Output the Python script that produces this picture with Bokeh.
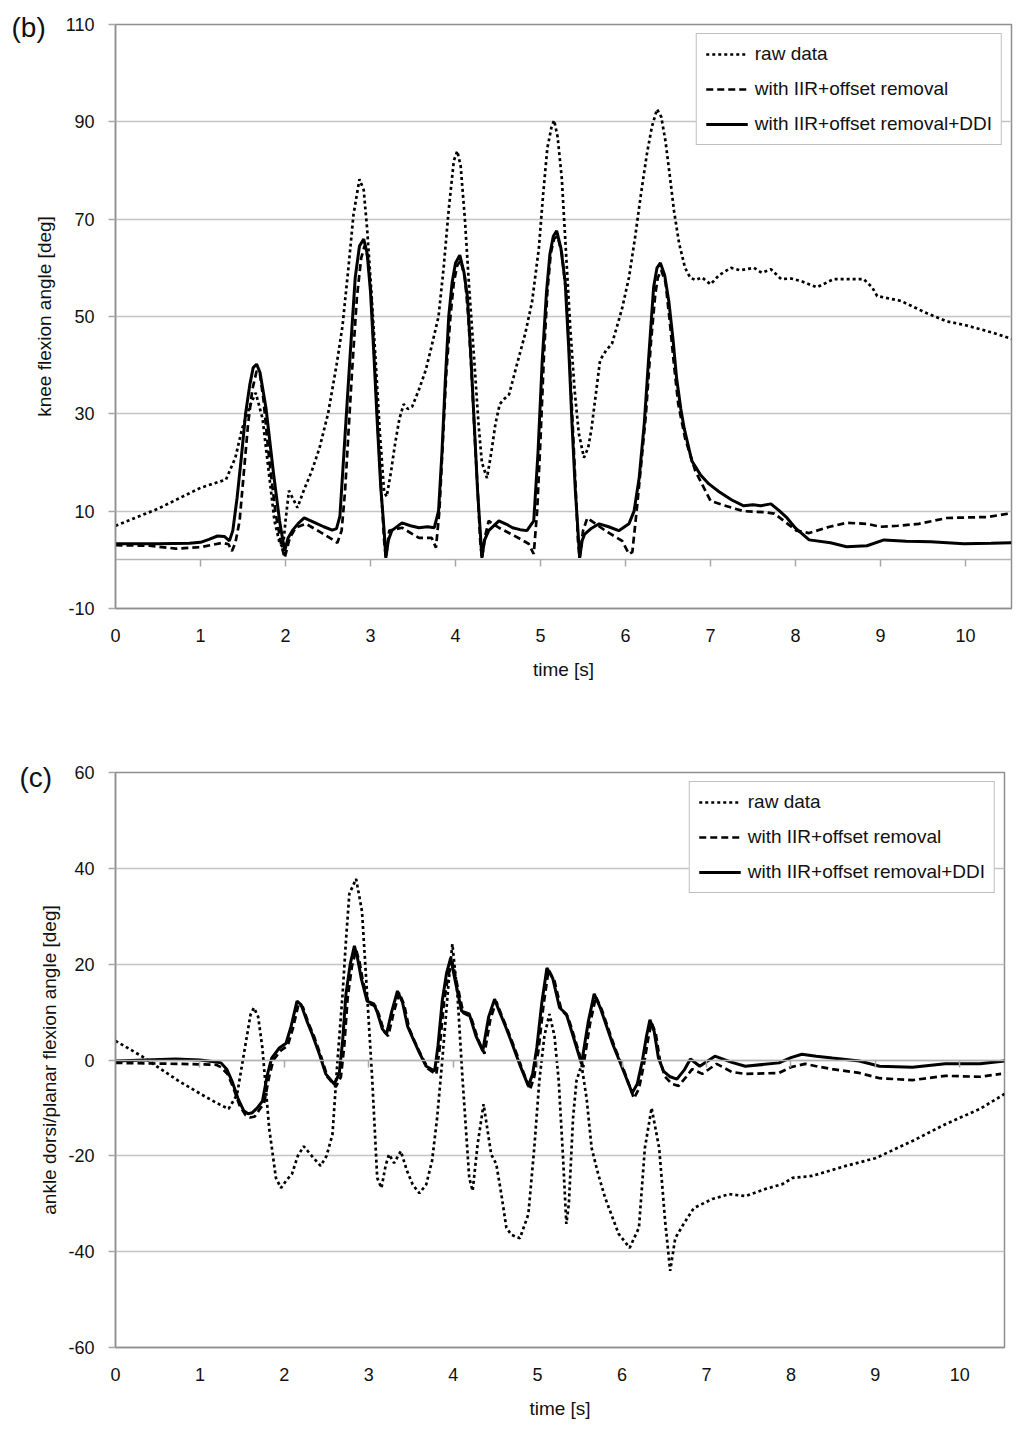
from bokeh.plotting import figure
from bokeh.models import Range1d, FixedTicker, LinearAxis, Label, Legend, LegendItem
from bokeh.layouts import column
from bokeh.embed import file_html
from bokeh.resources import INLINE

FONT = "Liberation Sans"
TXT = "#111111"
GRID = "#c4c4c4"
FRAME = "#8f8f8f"

series_names = ["raw data", "with IIR+offset removal", "with IIR+offset removal+DDI"]
time_ticks = list(range(0, 11))
knee_ticks = [-10, 10, 30, 50, 70, 90, 110]
ankle_ticks = [-60, -40, -20, 0, 20, 40, 60]

# (b) knee flexion angle, (time [s], angle [deg])
knee_raw = [(0.00, 7.0), (0.50, 10.5), (1.00, 14.8), (1.30, 16.5), (1.41, 21.0), (1.49, 27.0), (1.59, 32.0),
            (1.65, 34.3), (1.73, 29.0), (1.81, 17.0), (1.87, 8.0), (1.93, 3.5), (1.97, 2.5), (2.00, 8.0),
            (2.04, 14.2), (2.09, 12.5), (2.14, 10.7), (2.22, 14.5), (2.31, 18.3), (2.40, 23.0), (2.50, 30.0),
            (2.60, 40.0), (2.67, 48.0), (2.74, 60.0), (2.80, 71.0), (2.87, 78.2), (2.92, 76.0), (2.96, 68.0),
            (3.01, 55.0), (3.06, 41.0), (3.11, 26.0), (3.16, 14.0), (3.19, 13.0), (3.24, 18.0), (3.29, 24.0),
            (3.34, 29.0), (3.39, 32.0), (3.44, 31.0), (3.49, 31.5), (3.57, 35.0), (3.65, 39.0), (3.72, 44.0),
            (3.80, 50.0), (3.86, 60.0), (3.92, 72.0), (3.98, 82.0), (4.02, 84.0), (4.06, 81.0), (4.11, 70.0),
            (4.16, 56.0), (4.22, 41.0), (4.27, 28.0), (4.31, 20.0), (4.37, 16.8), (4.42, 22.0), (4.47, 28.0),
            (4.52, 32.0), (4.57, 33.0), (4.63, 34.0), (4.72, 40.0), (4.82, 46.5), (4.90, 53.0), (4.98, 64.0),
            (5.03, 75.0), (5.08, 84.6), (5.13, 89.0), (5.16, 90.3), (5.20, 87.0), (5.25, 78.4), (5.30, 63.0),
            (5.35, 47.6), (5.40, 35.0), (5.45, 26.0), (5.51, 21.0), (5.56, 23.0), (5.60, 27.0), (5.65, 34.0),
            (5.70, 41.0), (5.77, 43.0), (5.84, 44.4), (5.90, 48.0), (5.96, 51.7), (6.04, 58.0), (6.11, 66.0),
            (6.18, 75.0), (6.25, 83.3), (6.31, 89.0), (6.37, 92.6), (6.42, 91.0), (6.47, 86.0), (6.52, 79.0),
            (6.57, 71.7), (6.63, 65.0), (6.70, 60.0), (6.76, 58.0), (6.82, 57.5), (6.90, 58.0), (7.00, 56.6),
            (7.10, 58.5), (7.24, 60.0), (7.35, 59.5), (7.51, 60.0), (7.60, 59.0), (7.71, 59.7), (7.83, 57.7),
            (7.95, 57.8), (8.06, 57.3), (8.25, 56.0), (8.45, 57.7), (8.60, 57.7), (8.80, 57.7), (8.90, 56.0),
            (8.96, 54.2), (9.24, 53.2), (9.54, 50.7), (9.78, 49.0), (10.00, 48.2), (10.17, 47.4), (10.35, 46.5),
            (10.54, 45.4)]

knee_iir = [(0.00, 3.0), (0.40, 2.9), (0.71, 2.3), (1.00, 2.6), (1.26, 3.5), (1.33, 3.2), (1.37, 1.8),
            (1.41, 3.5), (1.46, 8.0), (1.51, 18.0), (1.56, 28.0), (1.61, 35.0), (1.66, 38.8), (1.70, 38.0),
            (1.74, 33.0), (1.80, 22.0), (1.88, 10.0), (1.95, 3.0), (1.99, 0.4), (2.05, 4.5), (2.12, 6.6),
            (2.24, 7.4), (2.40, 5.8), (2.55, 4.2), (2.61, 3.5), (2.66, 6.0), (2.70, 14.0), (2.74, 26.0),
            (2.78, 38.0), (2.84, 54.0), (2.89, 62.0), (2.93, 64.5), (2.97, 62.0), (3.01, 54.0), (3.05, 40.0),
            (3.09, 26.0), (3.13, 13.0), (3.16, 4.0), (3.18, 0.4), (3.22, 6.0), (3.37, 6.6), (3.57, 4.5),
            (3.72, 4.5), (3.77, 2.5), (3.81, 10.0), (3.85, 24.0), (3.89, 38.0), (3.94, 50.0), (3.98, 57.0),
            (4.02, 60.5), (4.06, 61.5), (4.11, 58.0), (4.15, 50.0), (4.19, 38.0), (4.23, 24.0), (4.27, 11.0),
            (4.29, 4.0), (4.31, 0.3), (4.35, 5.0), (4.39, 8.0), (4.51, 6.6), (4.74, 4.5), (4.86, 3.3),
            (4.92, 1.2), (4.96, 10.0), (5.00, 25.0), (5.04, 42.0), (5.08, 55.0), (5.12, 63.0), (5.16, 66.0),
            (5.20, 66.5), (5.25, 63.0), (5.30, 55.0), (5.34, 42.0), (5.38, 27.0), (5.42, 12.0), (5.44, 4.0),
            (5.46, 0.4), (5.50, 6.0), (5.55, 8.6), (5.76, 6.0), (5.96, 3.9), (6.04, 1.2), (6.08, 1.6),
            (6.13, 10.0), (6.18, 19.0), (6.24, 30.0), (6.30, 45.0), (6.35, 54.6), (6.38, 58.0), (6.42, 59.5),
            (6.47, 57.0), (6.52, 49.0), (6.57, 40.0), (6.62, 32.0), (6.70, 25.0), (6.82, 18.3), (7.00, 12.1),
            (7.25, 10.7), (7.39, 10.0), (7.63, 9.8), (7.75, 9.5), (7.90, 7.5), (8.01, 6.0), (8.16, 5.5),
            (8.40, 6.8), (8.60, 7.6), (8.84, 7.4), (9.00, 6.8), (9.20, 7.0), (9.45, 7.4), (9.78, 8.6),
            (10.00, 8.7), (10.26, 8.8), (10.54, 9.6)]

knee_ddi = [(0.00, 3.3), (0.50, 3.3), (0.87, 3.4), (1.00, 3.6), (1.10, 4.2), (1.20, 4.9), (1.28, 4.8),
            (1.34, 3.9), (1.38, 6.0), (1.43, 12.7), (1.48, 21.0), (1.53, 30.0), (1.58, 36.0), (1.62, 39.5),
            (1.66, 40.2), (1.70, 38.5), (1.77, 31.2), (1.86, 17.6), (1.93, 8.0), (1.99, 1.8), (2.03, 4.5),
            (2.08, 6.0), (2.15, 7.5), (2.22, 8.6), (2.35, 7.6), (2.45, 6.8), (2.55, 6.1), (2.60, 6.4),
            (2.64, 9.0), (2.68, 20.0), (2.72, 31.0), (2.76, 42.0), (2.82, 58.0), (2.87, 64.5), (2.92, 65.9),
            (2.96, 63.0), (3.00, 55.0), (3.04, 42.0), (3.08, 28.0), (3.12, 15.0), (3.16, 6.0), (3.18, 0.4),
            (3.21, 4.0), (3.25, 6.0), (3.37, 7.6), (3.47, 7.0), (3.57, 6.6), (3.67, 6.8), (3.75, 6.6),
            (3.80, 10.0), (3.84, 22.0), (3.88, 37.0), (3.92, 50.0), (3.96, 57.0), (4.00, 61.0), (4.05, 62.6),
            (4.10, 59.0), (4.14, 54.0), (4.18, 42.0), (4.22, 28.0), (4.26, 14.0), (4.29, 6.0), (4.31, 0.4),
            (4.34, 4.0), (4.39, 6.0), (4.51, 8.0), (4.60, 7.3), (4.67, 6.6), (4.76, 6.2), (4.84, 6.0),
            (4.92, 8.0), (4.97, 22.0), (5.02, 41.0), (5.07, 55.0), (5.11, 62.8), (5.15, 66.5), (5.19, 67.6),
            (5.24, 64.0), (5.29, 57.0), (5.33, 44.0), (5.37, 28.0), (5.41, 14.0), (5.44, 6.0), (5.46, 0.4),
            (5.49, 4.0), (5.52, 5.3), (5.60, 6.5), (5.69, 7.4), (5.80, 6.8), (5.92, 6.0), (6.04, 7.4),
            (6.10, 10.0), (6.16, 16.8), (6.22, 28.0), (6.27, 41.0), (6.33, 56.0), (6.37, 60.0), (6.41, 61.0),
            (6.46, 58.5), (6.51, 53.0), (6.56, 45.0), (6.60, 37.4), (6.65, 31.0), (6.69, 27.0), (6.78, 20.3),
            (6.88, 17.5), (6.98, 15.6), (7.10, 14.0), (7.25, 12.3), (7.39, 11.1), (7.50, 11.3), (7.59, 11.1),
            (7.71, 11.5), (7.80, 10.2), (7.90, 8.6), (8.00, 6.5), (8.16, 4.1), (8.41, 3.5), (8.60, 2.7),
            (8.84, 2.9), (9.04, 4.1), (9.30, 3.8), (9.59, 3.7), (9.98, 3.3), (10.30, 3.4), (10.54, 3.5)]

# (c) ankle dorsi/planar flexion angle
ankle_raw = [(0.00, 4.0), (0.31, 0.8), (0.75, -4.4), (1.00, -7.0), (1.20, -9.0), (1.34, -10.2), (1.44, -7.2),
             (1.54, 3.3), (1.60, 9.5), (1.64, 10.9), (1.69, 9.0), (1.74, 2.5), (1.82, -14.2), (1.90, -24.6),
             (1.96, -26.7), (2.03, -25.0), (2.09, -23.8), (2.16, -20.0), (2.23, -18.0), (2.30, -19.5),
             (2.43, -22.1), (2.50, -20.0), (2.57, -15.5), (2.63, 0.0), (2.69, 13.8), (2.73, 25.0), (2.77, 34.7),
             (2.85, 37.8), (2.92, 31.0), (2.98, 13.8), (3.04, -3.8), (3.10, -24.6), (3.15, -26.7), (3.20, -22.0),
             (3.24, -19.7), (3.30, -21.5), (3.38, -19.0), (3.45, -23.0), (3.52, -26.0), (3.60, -27.8),
             (3.68, -26.0), (3.75, -21.0), (3.81, -12.0), (3.87, -0.2), (3.95, 17.1), (3.99, 24.2), (4.05, 13.8),
             (4.11, -3.8), (4.19, -24.6), (4.23, -27.3), (4.29, -17.5), (4.36, -9.2), (4.45, -19.7),
             (4.51, -21.7), (4.57, -28.0), (4.63, -35.0), (4.69, -36.5), (4.79, -37.2), (4.89, -32.2),
             (4.96, -18.4), (5.02, -4.4), (5.08, 5.0), (5.14, 9.6), (5.20, 5.0), (5.25, -4.4), (5.30, -20.0),
             (5.34, -34.2), (5.37, -30.0), (5.42, -12.0), (5.46, -4.4), (5.52, -1.0), (5.58, -8.0),
             (5.64, -18.4), (5.72, -24.0), (5.80, -28.8), (5.96, -36.3), (6.09, -39.2), (6.20, -35.0),
             (6.27, -18.4), (6.35, -10.0), (6.44, -18.4), (6.51, -33.6), (6.57, -44.0), (6.63, -37.2),
             (6.73, -34.2), (6.85, -30.9), (7.07, -29.0), (7.27, -28.0), (7.46, -28.4), (7.70, -26.9),
             (7.90, -25.9), (8.02, -24.6), (8.25, -24.2), (8.65, -22.1), (9.00, -20.5), (9.44, -16.9),
             (9.83, -13.4), (10.24, -10.2), (10.53, -7.1)]

ankle_iir = [(0.00, -0.6), (0.71, -0.8), (1.00, -0.9), (1.19, -1.0), (1.25, -1.5), (1.33, -3.0), (1.40, -6.0),
             (1.47, -9.5), (1.54, -11.5), (1.60, -12.0), (1.65, -11.8), (1.70, -10.5), (1.76, -9.0),
             (1.82, -3.5), (1.87, 0.0), (1.96, 2.0), (2.04, 3.0), (2.10, 6.5), (2.17, 11.8), (2.22, 11.0),
             (2.29, 7.5), (2.35, 5.0), (2.44, 0.5), (2.51, -3.5), (2.61, -5.6), (2.67, -3.5), (2.71, 3.0),
             (2.75, 13.0), (2.80, 19.5), (2.85, 23.0), (2.89, 20.5), (2.93, 16.5), (3.00, 11.8), (3.08, 11.2),
             (3.12, 9.5), (3.18, 6.0), (3.23, 5.0), (3.29, 9.5), (3.36, 14.0), (3.42, 11.5), (3.48, 6.5),
             (3.54, 4.0), (3.62, 1.0), (3.70, -1.8), (3.80, -3.0), (3.84, 2.5), (3.89, 12.0), (3.94, 17.5),
             (3.99, 20.5), (4.05, 15.5), (4.12, 9.8), (4.21, 9.0), (4.29, 4.5), (4.37, 1.3), (4.44, 8.5),
             (4.51, 12.2), (4.57, 9.5), (4.64, 6.5), (4.72, 2.8), (4.82, -2.0), (4.91, -6.2), (4.96, -3.5),
             (5.01, 2.0), (5.07, 11.5), (5.13, 18.8), (5.20, 16.5), (5.28, 10.5), (5.36, 9.0), (5.44, 4.5),
             (5.54, -1.5), (5.62, 7.5), (5.69, 13.2), (5.76, 10.5), (5.91, 2.8), (6.02, -2.0), (6.14, -8.0),
             (6.20, -6.0), (6.26, -0.8), (6.31, 4.5), (6.35, 7.8), (6.40, 5.5), (6.45, -0.2), (6.51, -3.5),
             (6.59, -5.0), (6.67, -5.4), (6.76, -3.5), (6.83, -1.9), (6.95, -2.9), (7.12, -0.8), (7.30, -2.5),
             (7.46, -2.9), (7.86, -2.7), (8.00, -1.5), (8.17, -0.8), (8.30, -1.3), (8.49, -1.9), (8.81, -2.7),
             (9.05, -3.8), (9.44, -4.2), (9.83, -3.3), (10.24, -3.5), (10.49, -2.9)]

ankle_ddi = [(0.00, -0.2), (0.71, 0.2), (1.00, 0.0), (1.19, -0.4), (1.25, -0.6), (1.32, -2.0), (1.38, -4.4),
             (1.45, -8.0), (1.52, -10.6), (1.57, -11.2), (1.62, -11.0), (1.68, -10.0), (1.74, -8.6),
             (1.80, -3.0), (1.85, 0.4), (1.94, 2.5), (2.02, 3.5), (2.08, 7.0), (2.15, 12.3), (2.20, 11.5),
             (2.27, 8.0), (2.33, 5.4), (2.42, 1.0), (2.49, -2.9), (2.59, -5.0), (2.65, -2.9), (2.69, 4.0),
             (2.73, 13.8), (2.78, 20.0), (2.83, 23.8), (2.87, 21.0), (2.91, 17.1), (2.98, 12.3), (3.06, 11.7),
             (3.10, 10.0), (3.16, 6.5), (3.21, 5.4), (3.27, 10.0), (3.34, 14.4), (3.40, 12.0), (3.46, 7.0),
             (3.52, 4.6), (3.60, 1.5), (3.68, -1.3), (3.78, -2.3), (3.82, 3.0), (3.87, 12.3), (3.92, 18.0),
             (3.97, 21.3), (4.03, 16.0), (4.10, 10.2), (4.19, 9.6), (4.27, 5.0), (4.35, 1.9), (4.42, 9.0),
             (4.49, 12.7), (4.55, 10.0), (4.62, 7.0), (4.70, 3.3), (4.80, -1.5), (4.89, -5.4), (4.94, -3.0),
             (4.99, 2.5), (5.05, 12.0), (5.11, 19.2), (5.18, 17.0), (5.26, 10.9), (5.34, 9.6), (5.42, 5.0),
             (5.52, -0.8), (5.60, 8.0), (5.67, 13.8), (5.74, 11.0), (5.89, 3.3), (6.00, -1.5), (6.12, -6.9),
             (6.18, -5.0), (6.24, -0.2), (6.29, 5.0), (6.33, 8.4), (6.38, 6.0), (6.43, 0.5), (6.49, -2.3),
             (6.57, -3.5), (6.65, -4.0), (6.74, -2.0), (6.81, 0.2), (6.92, -1.3), (7.10, 0.8), (7.30, -0.5),
             (7.46, -1.3), (7.86, -0.6), (8.00, 0.5), (8.13, 1.2), (8.30, 0.8), (8.49, 0.4), (8.81, -0.2),
             (9.05, -1.3), (9.44, -1.5), (9.83, -0.8), (10.24, -0.8), (10.53, -0.2)]


def make_panel(tag, ylabel, yticks, raw, iir, ddi, x_end, frame_w, frame_h,
               left, right, top, bottom, ylabel_gap, tag_pos, tag_side):
    p = figure(frame_width=frame_w, frame_height=frame_h,
               min_border_left=left, min_border_right=right, min_border_top=top, min_border_bottom=bottom,
               x_range=Range1d(0, x_end), y_range=Range1d(yticks[0], yticks[-1]),
               output_backend="svg", toolbar_location=None)
    p.background_fill_color = "white"
    p.border_fill_color = "white"
    p.outline_line_color = FRAME
    p.outline_line_width = 1.5

    xa = p.xaxis[0]
    xa.ticker = FixedTicker(ticks=time_ticks)
    xa.major_tick_out = 0
    xa.major_tick_in = 0
    xa.minor_tick_line_color = None
    xa.axis_line_color = FRAME
    xa.axis_line_width = 1.5
    xa.major_label_standoff = 20
    xa.major_label_text_font = FONT
    xa.major_label_text_font_size = "18px"
    xa.major_label_text_color = TXT
    xa.axis_label = "time [s]"
    xa.axis_label_standoff = 14
    xa.axis_label_text_font = FONT
    xa.axis_label_text_font_size = "19px"
    xa.axis_label_text_font_style = "normal"
    xa.axis_label_text_color = TXT

    # horizontal axis crossing at zero, tick marks only
    zero_axis = LinearAxis(fixed_location=0, ticker=FixedTicker(ticks=time_ticks[1:]),
                           major_tick_out=7, major_tick_in=0, major_tick_line_color="#a8a8a8",
                           major_tick_line_width=1.5, minor_tick_line_color=None,
                           axis_line_color="#b4b4b4", axis_line_width=1.5,
                           major_label_text_color=None)
    p.add_layout(zero_axis, "below")

    ya = p.yaxis[0]
    ya.ticker = FixedTicker(ticks=yticks)
    ya.major_label_overrides = {v: str(v) for v in yticks}
    ya.major_tick_out = 7
    ya.major_tick_in = 0
    ya.major_tick_line_color = "#a8a8a8"
    ya.major_tick_line_width = 1.5
    ya.minor_tick_line_color = None
    ya.axis_line_color = FRAME
    ya.axis_line_width = 1.5
    ya.major_label_standoff = 14
    ya.major_label_text_font = FONT
    ya.major_label_text_font_size = "18px"
    ya.major_label_text_color = TXT
    ya.axis_label = ylabel
    ya.axis_label_standoff = ylabel_gap
    ya.axis_label_text_font = FONT
    ya.axis_label_text_font_size = "19px"
    ya.axis_label_text_font_style = "normal"
    ya.axis_label_text_color = TXT

    p.xgrid.visible = False
    p.ygrid.ticker = FixedTicker(ticks=yticks)
    p.ygrid.grid_line_color = GRID
    p.ygrid.grid_line_width = 1.5

    t, y = zip(*raw)
    r_raw = p.line(list(t), list(y), line_color="black", line_width=2.7, line_dash="3 3")
    t, y = zip(*iir)
    r_iir = p.line(list(t), list(y), line_color="black", line_width=2.7, line_dash="7 4")
    t, y = zip(*ddi)
    r_ddi = p.line(list(t), list(y), line_color="black", line_width=3)

    legend = Legend(items=[LegendItem(label=series_names[0], renderers=[r_raw]),
                           LegendItem(label=series_names[1], renderers=[r_iir]),
                           LegendItem(label=series_names[2], renderers=[r_ddi])],
                    location="top_right", margin=9, padding=9, spacing=13,
                    glyph_width=42, glyph_height=20, label_height=20, label_standoff=7,
                    label_text_font=FONT, label_text_font_size="19px", label_text_color=TXT,
                    border_line_color="#7f7f7f", border_line_width=1.5,
                    background_fill_color="white", background_fill_alpha=1.0)
    p.add_layout(legend)

    # panel tag outside the frame: put it in a side panel (where there is spare room) so it is not clipped
    p.add_layout(Label(x=tag_pos[0], y=tag_pos[1], x_units="canvas", y_units="canvas", text=tag,
                       text_baseline="middle", text_align="left", text_font=FONT,
                       text_font_size="28px", text_color=TXT), tag_side)
    return p


p_knee = make_panel("(b)", "knee flexion angle [deg]", knee_ticks, knee_raw, knee_iir, knee_ddi,
                    10.54, 896, 584, 115, 5, 24, 112, 8, (11, 27), "below")
p_ankle = make_panel("(c)", "ankle dorsi/planar flexion angle [deg]", ankle_ticks, ankle_raw, ankle_iir,
                     ankle_ddi, 10.53, 889, 575, 115, 12, 52, 70, 5, (19, 57), "above")

p = column(p_knee, p_ankle)
open("out.html", "w").write(file_html(p, INLINE))
